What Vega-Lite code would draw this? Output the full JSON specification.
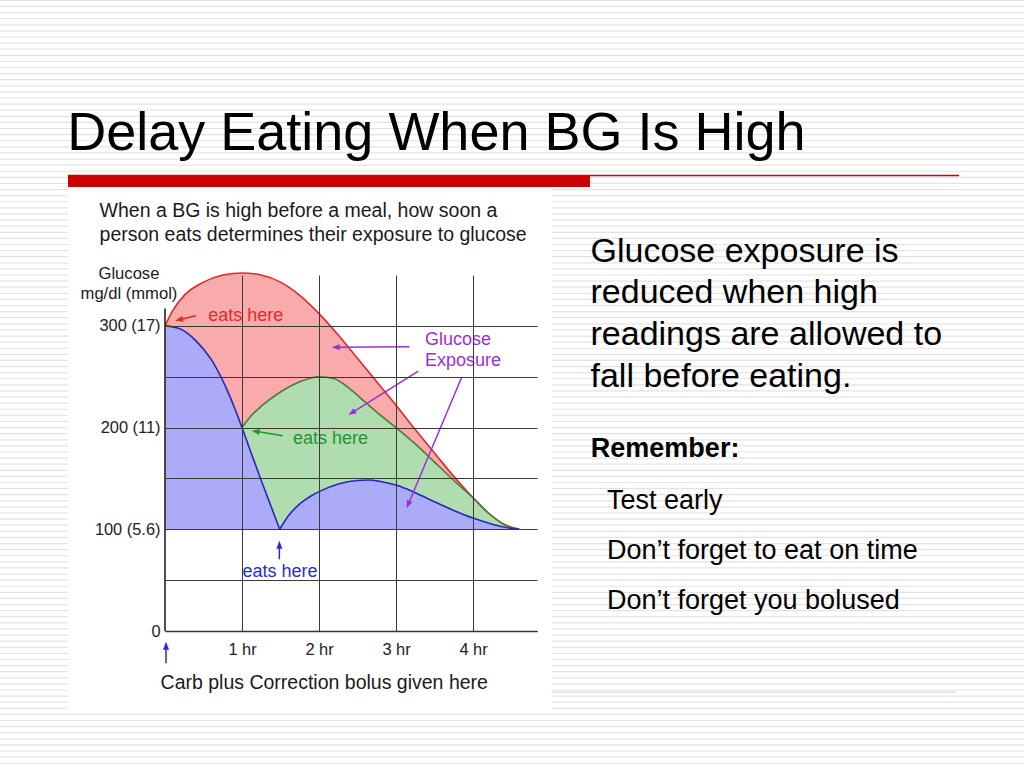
{
"$schema":"https://vega.github.io/schema/vega-lite/v6.json",
"width":372,"height":356,
"autosize":{"type":"none"},
"padding":{"left":165,"top":275,"right":487,"bottom":137},
"background":"#FFFFFF",
"config":{"view":{"stroke":null},"font":"Liberation Sans"},
"datasets":{
"stripes":[{"v":620},{"v":614},{"v":608},{"v":602},{"v":596},{"v":590},{"v":584},{"v":578},{"v":572},{"v":566},{"v":560},{"v":554},{"v":548},{"v":542},{"v":536},{"v":530},{"v":524},{"v":518},{"v":512},{"v":506},{"v":500},{"v":494},{"v":488},{"v":482},{"v":476},{"v":470},{"v":464},{"v":458},{"v":452},{"v":446},{"v":440},{"v":434},{"v":428},{"v":422},{"v":416},{"v":410},{"v":404},{"v":398},{"v":392},{"v":386},{"v":380},{"v":374},{"v":368},{"v":362},{"v":356},{"v":350},{"v":344},{"v":338},{"v":332},{"v":326},{"v":320},{"v":314},{"v":308},{"v":302},{"v":296},{"v":290},{"v":284},{"v":278},{"v":272},{"v":266},{"v":260},{"v":254},{"v":248},{"v":242},{"v":236},{"v":230},{"v":224},{"v":218},{"v":212},{"v":206},{"v":200},{"v":194},{"v":188},{"v":182},{"v":176},{"v":170},{"v":164},{"v":158},{"v":152},{"v":146},{"v":140},{"v":134},{"v":128},{"v":122},{"v":116},{"v":110},{"v":104},{"v":98},{"v":92},{"v":86},{"v":80},{"v":74},{"v":68},{"v":62},{"v":56},{"v":50},{"v":44},{"v":38},{"v":32},{"v":26},{"v":20},{"v":14},{"v":8},{"v":2},{"v":-4},{"v":-10},{"v":-16},{"v":-22},{"v":-28},{"v":-34},{"v":-40},{"v":-46},{"v":-52},{"v":-58},{"v":-64},{"v":-70},{"v":-76},{"v":-82},{"v":-88},{"v":-94},{"v":-100},{"v":-106},{"v":-112},{"v":-118},{"v":-124},{"v":-130},{"v":-136}],
"curves":[
{"curve":"red","part":"a","t":0,"g":300},{"curve":"red","part":"a","t":0.1,"g":315},{"curve":"red","part":"a","t":0.25,"g":330},{"curve":"red","part":"a","t":0.5,"g":343},{"curve":"red","part":"a","t":0.75,"g":350},{"curve":"red","part":"a","t":1.0,"g":352},{"curve":"red","part":"a","t":1.25,"g":350},{"curve":"red","part":"a","t":1.5,"g":343},{"curve":"red","part":"a","t":1.75,"g":330},{"curve":"red","part":"a","t":2.0,"g":312},{"curve":"red","part":"a","t":2.25,"g":291},{"curve":"red","part":"a","t":2.5,"g":268},{"curve":"red","part":"a","t":2.75,"g":245},{"curve":"red","part":"a","t":3.0,"g":222},{"curve":"red","part":"a","t":3.25,"g":198},{"curve":"red","part":"a","t":3.5,"g":175},{"curve":"red","part":"a","t":3.75,"g":152},{"curve":"red","part":"a","t":4.0,"g":131},{"curve":"red","part":"a","t":4.2,"g":116},{"curve":"red","part":"a","t":4.4,"g":105},{"curve":"red","part":"a","t":4.6,"g":100},
{"curve":"green","part":"a","t":1.0,"g":200},{"curve":"green","part":"a","t":1.1,"g":210},{"curve":"green","part":"a","t":1.25,"g":221},{"curve":"green","part":"a","t":1.5,"g":235},{"curve":"green","part":"a","t":1.75,"g":245},{"curve":"green","part":"a","t":2.0,"g":250},{"curve":"green","part":"a","t":2.2,"g":248},{"curve":"green","part":"a","t":2.4,"g":238},{"curve":"green","part":"a","t":2.6,"g":225},{"curve":"green","part":"a","t":2.8,"g":212},{"curve":"green","part":"a","t":3.0,"g":200},{"curve":"green","part":"a","t":3.25,"g":184},{"curve":"green","part":"a","t":3.5,"g":166},{"curve":"green","part":"a","t":3.75,"g":148},{"curve":"green","part":"a","t":4.0,"g":131},{"curve":"green","part":"a","t":4.2,"g":116},{"curve":"green","part":"a","t":4.4,"g":105},{"curve":"green","part":"a","t":4.6,"g":100},
{"curve":"blue","part":"a","t":0,"g":300},{"curve":"blue","part":"a","t":0.2,"g":297},{"curve":"blue","part":"a","t":0.4,"g":285.5},{"curve":"blue","part":"a","t":0.6,"g":267},{"curve":"blue","part":"a","t":0.8,"g":238},{"curve":"blue","part":"a","t":0.9,"g":220},{"curve":"blue","part":"a","t":1.0,"g":200},{"curve":"blue","part":"a","t":1.1,"g":179},{"curve":"blue","part":"a","t":1.25,"g":148},{"curve":"blue","part":"a","t":1.49,"g":100},
{"curve":"blue","part":"b","t":1.49,"g":100},{"curve":"blue","part":"b","t":1.6,"g":113},{"curve":"blue","part":"b","t":1.75,"g":125},{"curve":"blue","part":"b","t":1.9,"g":133},{"curve":"blue","part":"b","t":2.0,"g":137},{"curve":"blue","part":"b","t":2.25,"g":144.5},{"curve":"blue","part":"b","t":2.5,"g":148},{"curve":"blue","part":"b","t":2.65,"g":148.5},{"curve":"blue","part":"b","t":2.8,"g":147},{"curve":"blue","part":"b","t":3.0,"g":143.5},{"curve":"blue","part":"b","t":3.25,"g":136},{"curve":"blue","part":"b","t":3.5,"g":127},{"curve":"blue","part":"b","t":3.75,"g":118.5},{"curve":"blue","part":"b","t":4.0,"g":111},{"curve":"blue","part":"b","t":4.25,"g":105},{"curve":"blue","part":"b","t":4.45,"g":101.5},{"curve":"blue","part":"b","t":4.6,"g":100}
],
"arrows":[
{"tone":"red","x":0.403,"y":310.0,"hx":0.181,"hy":306.0,"angle":256.6},
{"tone":"green","x":1.528,"y":192.0,"hx":1.177,"hy":196.3,"angle":279.2},
{"tone":"purple","x":3.175,"y":279.5,"hx":2.217,"hy":278.9,"angle":269.6},
{"tone":"purple","x":3.29,"y":255.6,"hx":2.425,"hy":214.4,"angle":237.8},
{"tone":"purple","x":3.853,"y":249.4,"hx":3.158,"hy":124.3,"angle":202.8},
{"tone":"blue","x":0.013,"y":-31.8,"hx":0.013,"hy":-14.5,"angle":0},
{"tone":"blue","x":1.485,"y":70.5,"hx":1.485,"hy":84.8,"angle":0}
],
"labels":[
{"group":"title","text":"Delay Eating When BG Is High","x":-1.27,"y":472.9},
{"group":"body","text":"Glucose exposure is","x":5.526,"y":363.1},
{"group":"body","text":"reduced when high","x":5.526,"y":322.2},
{"group":"body","text":"readings are allowed to","x":5.526,"y":281.2},
{"group":"body","text":"fall before eating.","x":5.526,"y":240.2},
{"group":"remember","text":"Remember:","x":5.53,"y":171.4},
{"group":"bullet","text":"Test early","x":5.74,"y":119.6},
{"group":"bullet","text":"Don’t forget to eat on time","x":5.74,"y":70.5},
{"group":"bullet","text":"Don’t forget you bolused","x":5.74,"y":21.3},
{"group":"charttitle","text":"When a BG is high before a meal, how soon a","x":-0.85,"y":406.7},
{"group":"charttitle","text":"person eats determines their exposure to glucose","x":-0.85,"y":383.4},
{"group":"ytitle","text":"Glucose","x":-0.468,"y":345.8},
{"group":"ytitle","text":"mg/dl (mmol)","x":-0.468,"y":326.1},
{"group":"xtitle","text":"Carb plus Correction bolus given here","x":2.068,"y":-57.0},
{"group":"note","tone":"red","text":"eats here","x":1.05,"y":305.1},
{"group":"note","tone":"green","text":"eats here","x":2.149,"y":183.8},
{"group":"note","tone":"blue","text":"eats here","x":1.494,"y":52.8},
{"group":"note","tone":"purple","text":"Glucose","x":3.805,"y":281.2},
{"group":"note","tone":"purple","text":"Exposure","x":3.871,"y":260.5}
]
},
"layer":[
{"data":{"name":"stripes"},"transform":[{"filter":"datum.v >= 440 || datum.v <= -82"}],"mark":{"type":"rule","color":"#E3E3E3","strokeWidth":1.2},
 "encoding":{"y":{"field":"v","type":"quantitative","axis":{"title":null}},
  "x":{"datum":-2.2,"type":"quantitative","axis":{"title":null}},
  "x2":{"datum":11.2}}},
{"data":{"name":"stripes"},"transform":[{"filter":"datum.v < 440 && datum.v > -82"}],"mark":{"type":"rule","color":"#E3E3E3","strokeWidth":1.2},
 "encoding":{"y":{"field":"v","type":"quantitative","axis":{"title":null}},
  "x":{"datum":-2.2,"type":"quantitative","axis":{"title":null}},
  "x2":{"datum":-1.26}}},
{"data":{"name":"stripes"},"transform":[{"filter":"datum.v < 440 && datum.v > -82"}],"mark":{"type":"rule","color":"#E3E3E3","strokeWidth":1.2},
 "encoding":{"y":{"field":"v","type":"quantitative","axis":{"title":null}},
  "x":{"datum":5.026,"type":"quantitative","axis":{"title":null}},
  "x2":{"datum":11.2}}},
{"data":{"values":[{}]},"mark":{"type":"rule","color":"#CC0000","strokeWidth":1.5},
 "encoding":{"x":{"datum":-1.26,"type":"quantitative","axis":{"title":null}},"x2":{"datum":10.312},"y":{"datum":447.8,"type":"quantitative","axis":{"title":null}}}},
{"data":{"values":[{}]},"mark":{"type":"rect","color":"#CC0000"},
 "encoding":{"x":{"datum":-1.26,"type":"quantitative","axis":{"title":null}},"x2":{"datum":5.519},"y":{"datum":448.3,"type":"quantitative","axis":{"title":null}},"y2":{"datum":436.5}}},
{"data":{"values":[{}]},"mark":{"type":"rule","color":"#E8C6C6","strokeWidth":1},
 "encoding":{"x":{"datum":5.026,"type":"quantitative","axis":{"title":null}},"x2":{"datum":10.273},"y":{"datum":-60.0,"type":"quantitative","axis":{"title":null}}}},
{"data":{"name":"curves"},"transform":[{"filter":"datum.curve==='red'"}],
 "mark":{"type":"area","color":"#F9AAAA","opacity":1,"interpolate":"monotone"},
 "encoding":{
  "x":{"field":"t","type":"quantitative","scale":{"domain":[0,4.831],"nice":false,"zero":false},
   "axis":{"values":[1,2,3,4],"labelExpr":"datum.value + ' hr'","grid":true,"gridColor":"#3A3A3A","gridWidth":1,"ticks":false,"domain":true,"domainColor":"#333333","domainWidth":1.6,"labelFont":"Liberation Sans","labelFontSize":16.4,"labelColor":"#222222","labelPadding":10,"labelFlush":false,"title":null,"zindex":1}},
  "y":{"field":"g","type":"quantitative","stack":null,"scale":{"domain":[0,350],"nice":false,"zero":true},
   "axis":{"values":[0,50,100,150,200,250,300],"labelExpr":"datum.value == 300 ? '300 (17)' : datum.value == 200 ? '200 (11)' : datum.value == 100 ? '100 (5.6)' : datum.value == 0 ? '0' : ''","grid":true,"gridColor":"#3A3A3A","gridWidth":1,"ticks":false,"domain":false,"labelFont":"Liberation Sans","labelFontSize":16.4,"labelColor":"#222222","labelPadding":5,"labelFlush":false,"title":null,"zindex":1}},
  "y2":{"datum":100}}},
{"data":{"name":"curves"},"transform":[{"filter":"datum.curve==='green'"}],
 "mark":{"type":"area","color":"#B0DDB0","opacity":1,"interpolate":"monotone"},
 "encoding":{"x":{"field":"t","type":"quantitative","axis":{"title":null}},"y":{"field":"g","type":"quantitative","stack":null,"axis":{"title":null}},"y2":{"datum":100}}},
{"data":{"name":"curves"},"transform":[{"filter":"datum.curve==='blue'"}],
 "mark":{"type":"area","color":"#ABABF7","opacity":1,"interpolate":"monotone"},
 "encoding":{"x":{"field":"t","type":"quantitative","axis":{"title":null}},"y":{"field":"g","type":"quantitative","stack":null,"axis":{"title":null}},"y2":{"datum":100},"detail":{"field":"part"}}},
{"data":{"name":"curves"},"transform":[{"filter":"datum.curve==='red'"}],
 "mark":{"type":"line","color":"#E0282C","strokeWidth":1.6,"interpolate":"monotone"},
 "encoding":{"x":{"field":"t","type":"quantitative","axis":{"title":null}},"y":{"field":"g","type":"quantitative","axis":{"title":null}}}},
{"data":{"name":"curves"},"transform":[{"filter":"datum.curve==='green'"}],
 "mark":{"type":"line","color":"#4D7B33","strokeWidth":1.6,"interpolate":"monotone"},
 "encoding":{"x":{"field":"t","type":"quantitative","axis":{"title":null}},"y":{"field":"g","type":"quantitative","axis":{"title":null}}}},
{"data":{"name":"curves"},"transform":[{"filter":"datum.curve==='blue'"}],
 "mark":{"type":"line","color":"#2626C0","strokeWidth":1.6,"interpolate":"monotone"},
 "encoding":{"x":{"field":"t","type":"quantitative","axis":{"title":null}},"y":{"field":"g","type":"quantitative","axis":{"title":null}},"detail":{"field":"part"}}},
{"data":{"values":[{}]},"mark":{"type":"rule","color":"#222222","strokeWidth":1.6},
 "encoding":{"x":{"datum":0,"type":"quantitative","axis":{"title":null}},"y":{"datum":0,"type":"quantitative","axis":{"title":null}},"y2":{"datum":317}}},
{"data":{"name":"arrows"},"mark":{"type":"rule","strokeWidth":1.5},
 "encoding":{"x":{"field":"x","type":"quantitative","axis":{"title":null}},"y":{"field":"y","type":"quantitative","axis":{"title":null}},"x2":{"field":"hx"},"y2":{"field":"hy"},
  "color":{"field":"tone","type":"nominal","scale":{"domain":["red","green","blue","purple"],"range":["#E32A2E","#22962E","#2B2BD6","#9B30D8"]},"legend":null}}},
{"data":{"name":"arrows"},"mark":{"type":"point","shape":"M0,-1L-0.75,1L0.75,1Z","size":64,"filled":true,"opacity":1,"strokeWidth":0},
 "encoding":{"x":{"field":"hx","type":"quantitative","axis":{"title":null}},"y":{"field":"hy","type":"quantitative","axis":{"title":null}},"angle":{"field":"angle","type":"quantitative","scale":null},
  "color":{"field":"tone","type":"nominal","scale":{"domain":["red","green","blue","purple"],"range":["#E32A2E","#22962E","#2B2BD6","#9B30D8"]},"legend":null}}},
{"data":{"name":"labels"},"transform":[{"filter":"datum.group==='title'"}],
 "mark":{"type":"text","align":"left","baseline":"alphabetic","fontSize":54,"color":"#000000","font":"Liberation Sans"},
 "encoding":{"x":{"field":"x","type":"quantitative","axis":{"title":null}},"y":{"field":"y","type":"quantitative","axis":{"title":null}},"text":{"field":"text"}}},
{"data":{"name":"labels"},"transform":[{"filter":"datum.group==='body'"}],
 "mark":{"type":"text","align":"left","baseline":"alphabetic","fontSize":34,"color":"#000000","font":"Liberation Sans"},
 "encoding":{"x":{"field":"x","type":"quantitative","axis":{"title":null}},"y":{"field":"y","type":"quantitative","axis":{"title":null}},"text":{"field":"text"}}},
{"data":{"name":"labels"},"transform":[{"filter":"datum.group==='remember'"}],
 "mark":{"type":"text","align":"left","baseline":"alphabetic","fontSize":27,"fontWeight":"bold","color":"#000000","font":"Liberation Sans"},
 "encoding":{"x":{"field":"x","type":"quantitative","axis":{"title":null}},"y":{"field":"y","type":"quantitative","axis":{"title":null}},"text":{"field":"text"}}},
{"data":{"name":"labels"},"transform":[{"filter":"datum.group==='bullet'"}],
 "mark":{"type":"text","align":"left","baseline":"alphabetic","fontSize":27,"color":"#000000","font":"Liberation Sans"},
 "encoding":{"x":{"field":"x","type":"quantitative","axis":{"title":null}},"y":{"field":"y","type":"quantitative","axis":{"title":null}},"text":{"field":"text"}}},
{"data":{"name":"labels"},"transform":[{"filter":"datum.group==='charttitle'"}],
 "mark":{"type":"text","align":"left","baseline":"alphabetic","fontSize":19.5,"color":"#1A1A1A","font":"Liberation Sans"},
 "encoding":{"x":{"field":"x","type":"quantitative","axis":{"title":null}},"y":{"field":"y","type":"quantitative","axis":{"title":null}},"text":{"field":"text"}}},
{"data":{"name":"labels"},"transform":[{"filter":"datum.group==='ytitle'"}],
 "mark":{"type":"text","align":"center","baseline":"alphabetic","fontSize":16.6,"color":"#1A1A1A","font":"Liberation Sans"},
 "encoding":{"x":{"field":"x","type":"quantitative","axis":{"title":null}},"y":{"field":"y","type":"quantitative","axis":{"title":null}},"text":{"field":"text"}}},
{"data":{"name":"labels"},"transform":[{"filter":"datum.group==='xtitle'"}],
 "mark":{"type":"text","align":"center","baseline":"alphabetic","fontSize":19.5,"color":"#1A1A1A","font":"Liberation Sans"},
 "encoding":{"x":{"field":"x","type":"quantitative","axis":{"title":null}},"y":{"field":"y","type":"quantitative","axis":{"title":null}},"text":{"field":"text"}}},
{"data":{"name":"labels"},"transform":[{"filter":"datum.group==='note'"}],
 "mark":{"type":"text","align":"center","baseline":"alphabetic","fontSize":18,"font":"Liberation Sans"},
 "encoding":{"x":{"field":"x","type":"quantitative","axis":{"title":null}},"y":{"field":"y","type":"quantitative","axis":{"title":null}},"text":{"field":"text"},
  "color":{"field":"tone","type":"nominal","scale":{"domain":["red","green","blue","purple"],"range":["#E32A2E","#22962E","#2B2BD6","#9B30D8"]},"legend":null}}}
]
}
